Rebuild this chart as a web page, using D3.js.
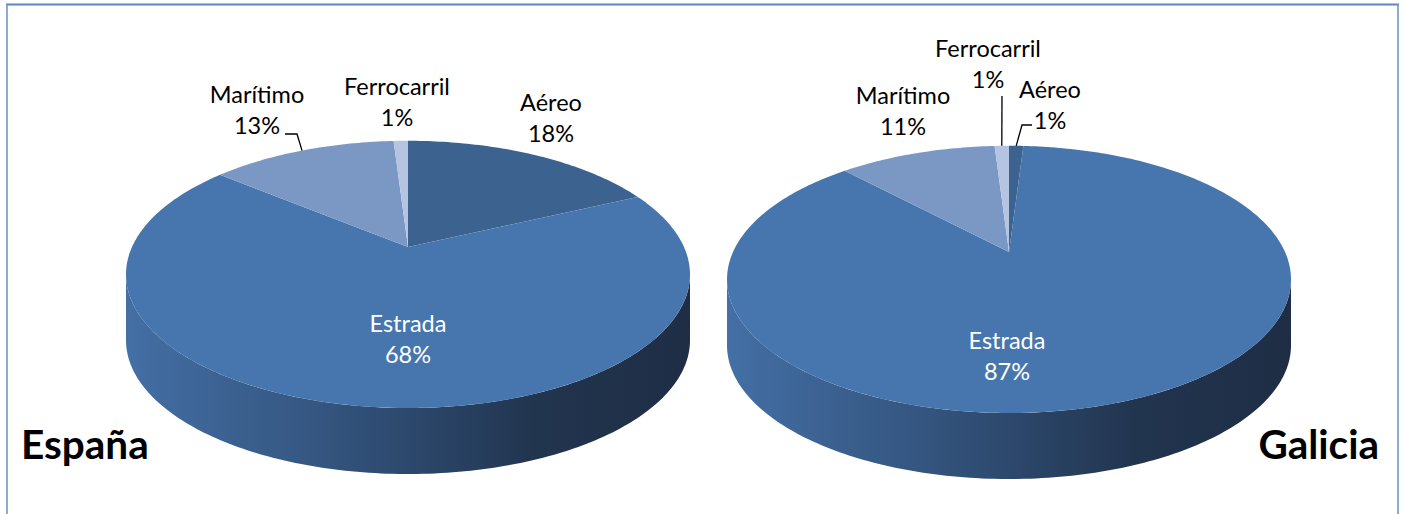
<!DOCTYPE html>
<html>
<head>
<meta charset="utf-8">
<script src="https://cdn.jsdelivr.net/npm/d3@7"></script>
<style>
  html, body { margin: 0; padding: 0; background: #fff; }
  svg { display: block; }
</style>
</head>
<body>
<svg id="chart" width="1407" height="514"></svg>
<script>
// Transport modes, in clockwise order from 12 o'clock
const categories = ["Aéreo", "Estrada", "Marítimo", "Ferrocarril"];
// Share of each mode (%)
const espanaValues = [18, 68, 13, 1];
const galiciaValues = [1, 87, 11, 1];
const regionNames = ["España", "Galicia"];

const sliceColors = ["#3C6290", "#4776AE", "#7B98C5", "#B5C5E1"];

const W = 1407, H = 514;
const svg = d3.select("#chart");
const defs = svg.append("defs");

// Shared perspective geometry for both discs
const RX = 276, RY = 128, K = 0.205, DEPTH = 66;
const LABEL_FONT = "Lato, 'Open Sans', sans-serif";

const pies = [
  { name: regionNames[0], values: espanaValues, cx: 408, cy: 247,
    nameX: 21, nameY: 459, nameAnchor: "start",
    labels: {
      "Aéreo":       { x: 551, y: 111 },
      "Marítimo":    { x: 257, y: 103, leader: [[285, 134], [297, 134]] },
      "Ferrocarril": { x: 397, y: 95 },
      "Estrada":     { x: 408, y: 332, inside: true }
    } },
  { name: regionNames[1], values: galiciaValues, cx: 1009, cy: 252,
    nameX: 1379, nameY: 459, nameAnchor: "end",
    labels: {
      "Aéreo":       { x: 1050, y: 98, leader: [[1032, 125], [1022, 125]] },
      "Marítimo":    { x: 903, y: 104 },
      "Ferrocarril": { x: 988, y: 57, leader: [[1002, 96]] },
      "Estrada":     { x: 1007, y: 349, inside: true }
    } }
];

// Project a point on the disc (angle clockwise from the far side, radius fraction r)
function project(p, theta, r = 1, dy = 0) {
  const u = r * Math.sin(theta), w = r * Math.cos(theta);
  const den = 1 + K * w;
  return [p.cx + RX * u / den, p.cy - RY * w / den + dy];
}

const pieLayout = d3.pie().sort(null).value(d => d).startAngle(0).endAngle(2 * Math.PI);
const line = d3.line();

// Angles where the rim turns from back to front (right and left silhouette points)
const frontStart = Math.acos(-K);
const frontEnd = 2 * Math.PI - Math.acos(-K);

function arcPoints(p, a0, a1, dy = 0) {
  const n = Math.max(2, Math.ceil((a1 - a0) / (Math.PI / 180)));
  return d3.range(n + 1).map(i => project(p, a0 + (a1 - a0) * i / n, 1, dy));
}

pies.forEach((p, pi) => {
  const g = svg.append("g");
  const arcs = pieLayout(p.values);

  // Side wall gradient, lit from the left
  const gid = "side" + pi;
  const grad = defs.append("linearGradient").attr("id", gid)
    .attr("gradientUnits", "userSpaceOnUse")
    .attr("x1", p.cx - RX * 1.03).attr("x2", p.cx + RX * 1.03)
    .attr("y1", 0).attr("y2", 0);
  [[0, "#4470A6"], [0.12, "#3E6698"], [0.35, "#34557F"], [0.55, "#2A4466"],
   [0.72, "#22354F"], [1, "#1E2D44"]].forEach(([o, c]) =>
    grad.append("stop").attr("offset", o).attr("stop-color", c));

  // Front side walls
  arcs.forEach(a => {
    const s0 = Math.max(a.startAngle, frontStart);
    const s1 = Math.min(a.endAngle, frontEnd);
    if (s1 <= s0) return;
    const top = arcPoints(p, s0, s1);
    const bottom = arcPoints(p, s0, s1, DEPTH).reverse();
    g.append("path")
      .attr("d", line(top.concat(bottom)) + "Z")
      .attr("fill", `url(#${gid})`);
  });

  // Top faces
  arcs.forEach((a, i) => {
    const pts = [[p.cx, p.cy]].concat(arcPoints(p, a.startAngle, a.endAngle));
    g.append("path")
      .attr("d", line(pts) + "Z")
      .attr("fill", sliceColors[i]);
  });

  // Data labels
  arcs.forEach((a, i) => {
    const cat = categories[i];
    const L = p.labels[cat];
    const t = g.append("text")
      .attr("x", L.x).attr("y", L.y)
      .attr("text-anchor", "middle")
      .attr("font-family", LABEL_FONT)
      .attr("font-size", 23.5)
      .attr("fill", L.inside ? "#ffffff" : "#000000");
    t.append("tspan").attr("x", L.x).text(cat);
    t.append("tspan").attr("x", L.x).attr("dy", 31).text(p.values[i] + "%");

    if (L.leader) {
      const mid = (a.startAngle + a.endAngle) / 2;
      const pts = L.leader.concat([project(p, mid, 1)]);
      g.append("path")
        .attr("d", line(pts))
        .attr("fill", "none")
        .attr("stroke", "#000")
        .attr("stroke-width", 1.3);
    }
  });

  // Region name
  svg.append("text")
    .attr("x", p.nameX).attr("y", p.nameY)
    .attr("text-anchor", p.nameAnchor)
    .attr("font-family", LABEL_FONT)
    .attr("font-weight", "bold")
    .attr("font-size", 40.5)
    .attr("fill", "#000")
    .text(p.name);
});

// Chart frame
svg.append("line").attr("x1", 6).attr("x2", 1399).attr("y1", 4.5).attr("y2", 4.5)
  .attr("stroke", "#5B88C0").attr("stroke-width", 2.2);
svg.append("line").attr("x1", 7).attr("x2", 7).attr("y1", 4).attr("y2", H)
  .attr("stroke", "#6F97CC").attr("stroke-width", 1.6);
svg.append("line").attr("x1", 1398).attr("x2", 1398).attr("y1", 4).attr("y2", H)
  .attr("stroke", "#6F97CC").attr("stroke-width", 1.6);
</script>
</body>
</html>
